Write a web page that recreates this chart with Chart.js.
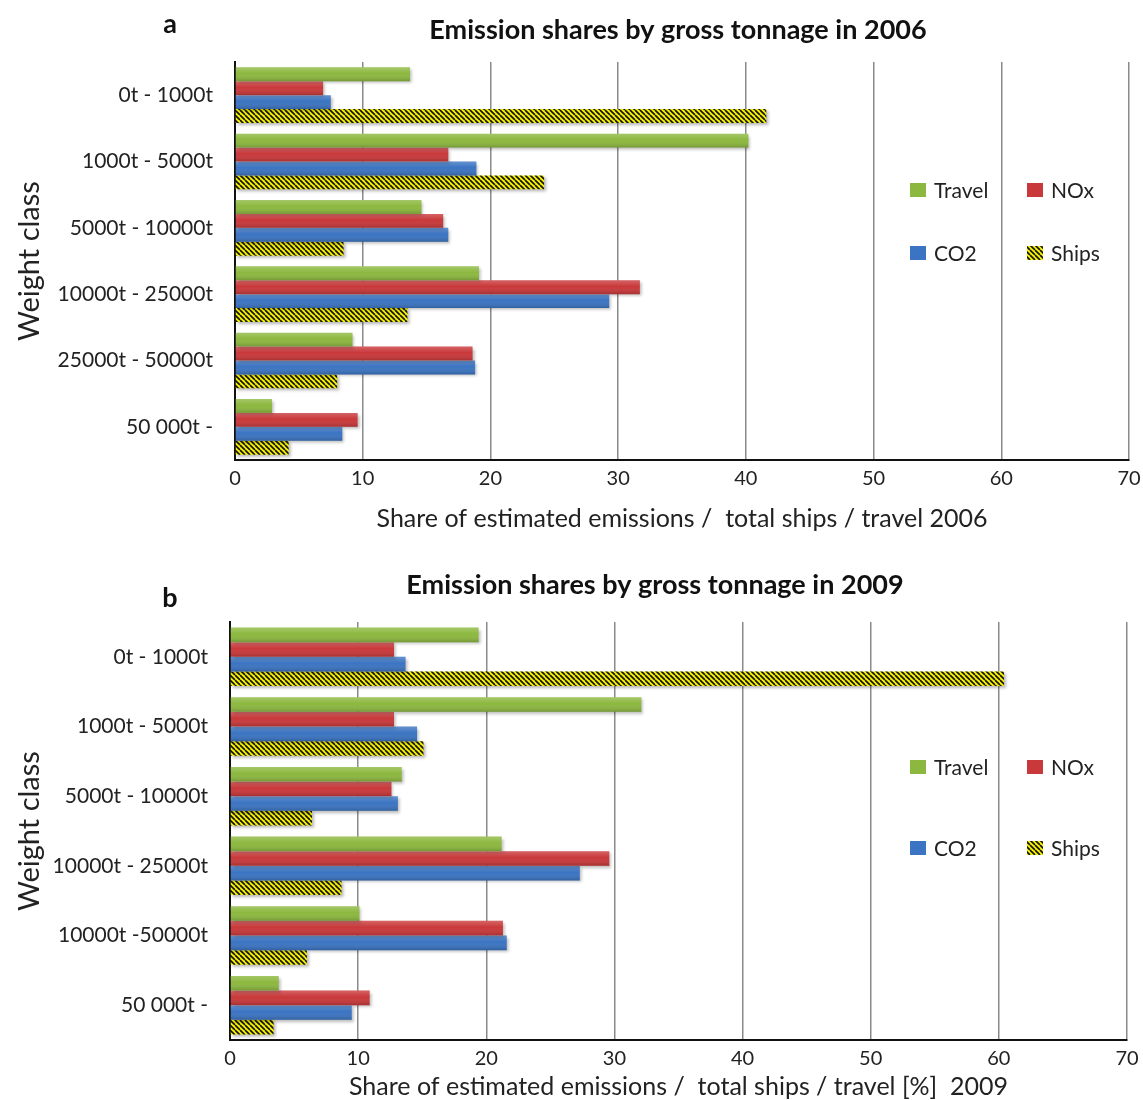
<!DOCTYPE html>
<html>
<head>
<meta charset="utf-8">
<script src="https://cdn.jsdelivr.net/npm/chart.js@4/dist/chart.umd.min.js"></script>
<style>
  html, body { margin: 0; padding: 0; background: #fff; }
  #wrap { position: relative; width: 1143px; height: 1100px; overflow: hidden; }
  canvas { position: absolute; left: 0; }
</style>
</head>
<body>
<div id="wrap">
  <canvas id="c2006" width="1143" height="548" style="top:0px"></canvas>
  <canvas id="c2009" width="1143" height="540" style="top:560px"></canvas>
</div>
<script>
// ---- data ----
const seriesNames = ['Travel', 'NOx', 'CO2', 'Ships'];
const xTicks = [0, 10, 20, 30, 40, 50, 60, 70];

const classes2006 = ['0t - 1000t', '1000t - 5000t', '5000t - 10000t', '10000t - 25000t', '25000t - 50000t', '50 000t -'];
const travel2006 = [13.7, 40.2, 14.6, 19.1, 9.2, 2.9];
const nox2006    = [6.9, 16.7, 16.3, 31.7, 18.6, 9.6];
const co2_2006   = [7.5, 18.9, 16.7, 29.3, 18.8, 8.4];
const ships2006  = [41.6, 24.2, 8.5, 13.5, 8.0, 4.2];

const classes2009 = ['0t - 1000t', '1000t - 5000t', '5000t - 10000t', '10000t - 25000t', '10000t -50000t', '50 000t -'];
const travel2009 = [19.4, 32.1, 13.4, 21.2, 10.1, 3.8];
const nox2009    = [12.8, 12.8, 12.6, 29.6, 21.3, 10.9];
const co2_2009   = [13.7, 14.6, 13.1, 27.3, 21.6, 9.5];
const ships2009  = [60.4, 15.1, 6.4, 8.7, 6.0, 3.4];

// ---- styling ----
const FONT = 'Lato, "Open Sans", sans-serif';
const TEXT = '#222';
const GREEN = '#8cb83f';
const RED = '#c9383a';
const BLUE = '#3b74c2';

// yellow/black diagonal hatch for the "Ships" series
function makeHatch() {
  const s = 5;
  const c = document.createElement('canvas');
  c.width = s; c.height = s;
  const g = c.getContext('2d');
  g.fillStyle = '#f5f000';
  g.fillRect(0, 0, s, s);
  g.strokeStyle = '#111';
  g.lineWidth = 1.6;
  g.beginPath();
  for (let i = -1; i <= 1; i++) {
    g.moveTo(i * s, 0);
    g.lineTo(i * s + s, s);
  }
  g.stroke();
  return g.createPattern(c, 'repeat');
}
const HATCH = makeHatch();
const fills = [GREEN, RED, BLUE, HATCH];

// soft drop shadow under every bar, plus glossy shading on the solid ones
const barShadow = {
  id: 'barShadow',
  beforeDatasetsDraw(chart) {
    const ctx = chart.ctx;
    ctx.save();
    ctx.shadowColor = 'rgba(0,0,0,0.28)';
    ctx.shadowBlur = 3;
    ctx.shadowOffsetX = 2;
    ctx.shadowOffsetY = 2;
  },
  afterDatasetsDraw(chart) {
    const ctx = chart.ctx;
    ctx.restore();
    chart.data.datasets.forEach((ds, di) => {
      if (ds.label === 'Ships') return;
      const meta = chart.getDatasetMeta(di);
      meta.data.forEach(el => {
        const p = el.getProps(['x', 'y', 'base', 'height'], true);
        const left = Math.min(p.x, p.base), w = Math.abs(p.x - p.base);
        const top = p.y - p.height / 2;
        const gr = ctx.createLinearGradient(0, top, 0, top + p.height);
        gr.addColorStop(0, 'rgba(255,255,255,0.22)');
        gr.addColorStop(0.45, 'rgba(255,255,255,0.0)');
        gr.addColorStop(1, 'rgba(0,0,0,0.18)');
        ctx.fillStyle = gr;
        ctx.fillRect(left, top, w, p.height);
      });
    });
  }
};

// chart heading, panel letter and 2x2 legend
const panelDecor = {
  id: 'panelDecor',
  afterDraw(chart, args, opts) {
    const ctx = chart.ctx;
    ctx.save();
    ctx.fillStyle = '#111';
    ctx.textBaseline = 'middle';
    ctx.font = 'bold 27px ' + FONT;
    ctx.textAlign = 'center';
    ctx.fillText(opts.title, opts.titleX, opts.titleY);
    ctx.font = 'bold 27px ' + FONT;
    ctx.fillText(opts.letter, opts.letterX, opts.letterY);

    ctx.font = '21px ' + FONT;
    ctx.textAlign = 'left';
    chart.data.datasets.forEach((ds, i) => {
      const col = i % 2, row = Math.floor(i / 2);
      const x = opts.legendX + col * opts.legendColGap;
      const y = opts.legendY + row * opts.legendRowGap;
      ctx.fillStyle = ds.backgroundColor;
      ctx.fillRect(x, y - 7, 16, 14);
      ctx.fillStyle = TEXT;
      ctx.fillText(ds.label, x + 24, y + 1);
    });
    ctx.restore();
  }
};

function buildChart(id, classes, values, axisTitle, leftW, bottomH, pad, decor, xTitlePad) {
  return new Chart(document.getElementById(id), {
    type: 'bar',
    data: {
      labels: classes,
      datasets: seriesNames.map((name, i) => ({
        label: name,
        data: values[i],
        backgroundColor: fills[i],
        borderWidth: 0,
        barPercentage: 1.0,
        categoryPercentage: 0.84
      }))
    },
    options: {
      indexAxis: 'y',
      responsive: false,
      animation: false,
      devicePixelRatio: 1,
      layout: { padding: pad },
      plugins: {
        legend: { display: false },
        tooltip: { enabled: false },
        panelDecor: decor
      },
      scales: {
        x: {
          min: 0, max: 70,
          afterBuildTicks(scale) { scale.ticks = xTicks.map(v => ({ value: v })); },
          afterFit(scale) {
            scale.height = bottomH;
            scale.paddingLeft = 0;
            scale.paddingRight = 0;
          },
          grid: { color: '#8a8a8a', lineWidth: 1.5, drawTicks: false },
          border: { color: '#111', width: 2 },
          ticks: { color: TEXT, font: { family: FONT, size: 20 }, padding: 7 },
          title: {
            display: true, text: axisTitle, color: TEXT,
            font: { family: FONT, size: 25 }, padding: xTitlePad
          }
        },
        y: {
          afterFit(scale) { scale.width = leftW; },
          grid: { display: false },
          border: { color: '#111', width: 2 },
          ticks: { color: TEXT, font: { family: FONT, size: 21 }, padding: 14 },
          title: {
            display: true, text: 'Weight class', color: TEXT,
            font: { family: FONT, size: 29 }, padding: { top: 12, bottom: 0 }
          }
        }
      }
    },
    plugins: [barShadow, panelDecor]
  });
}

buildChart('c2006', classes2006, [travel2006, nox2006, co2_2006, ships2006],
  'Share of estimated emissions /  total ships / travel 2006',
  235, 88, { top: 62, right: 14, left: 0, bottom: 0 },
  { title: 'Emission shares by gross tonnage in 2006', titleX: 678, titleY: 30,
    letter: 'a', letterX: 170, letterY: 24,
    legendX: 910, legendY: 190, legendColGap: 117, legendRowGap: 63 },
  { top: 0, bottom: 14 });

buildChart('c2009', classes2009, [travel2009, nox2009, co2_2009, ships2009],
  'Share of estimated emissions /  total ships / travel [%]  2009',
  230, 60, { top: 62, right: 16, left: 0, bottom: 0 },
  { title: 'Emission shares by gross tonnage in 2009', titleX: 655, titleY: 25,
    letter: 'b', letterX: 170, letterY: 38,
    legendX: 910, legendY: 207, legendColGap: 117, legendRowGap: 81 },
  { top: 0, bottom: -2 });
</script>
</body>
</html>
